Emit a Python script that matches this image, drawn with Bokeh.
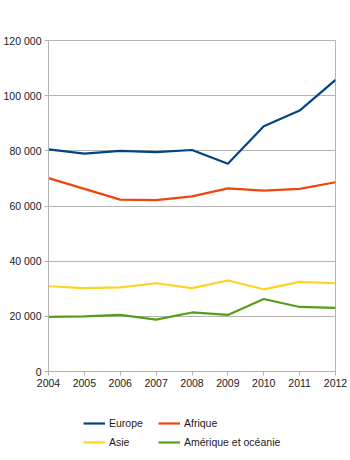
from bokeh.plotting import figure
from bokeh.models import Legend, LegendItem, FixedTicker, Range1d
from bokeh.layouts import column
from bokeh.embed import file_html
from bokeh.resources import INLINE

years = [2004, 2005, 2006, 2007, 2008, 2009, 2010, 2011, 2012]
europe = [80500, 79000, 80000, 79500, 80300, 75300, 88900, 94600, 105700]
afrique = [70100, 66200, 62300, 62100, 63500, 66400, 65600, 66200, 68600]
asie = [30900, 30200, 30500, 32000, 30200, 33000, 29800, 32500, 32000]
amerique = [19800, 20000, 20500, 18800, 21400, 20500, 26300, 23400, 23100]
series_names = ["Europe", "Afrique", "Asie", "Amérique et océanie"]
y_ticks = [0, 20000, 40000, 60000, 80000, 100000, 120000]
y_labels = ["0", "20 000", "40 000", "60 000", "80 000", "100 000", "120 000"]

colors = ["#004586", "#f0440f", "#ffd320", "#579d1c"]
FONT = "Liberation Sans"
GRID = "#b3b3b3"
LW = 2.2

p = figure(width=350, height=400, output_backend="svg", toolbar_location=None,
           x_range=Range1d(2004, 2012), y_range=Range1d(0, 120000),
           min_border_left=43, min_border_right=15, min_border_top=40, min_border_bottom=29)
p.background_fill_color = "white"
p.border_fill_color = "white"
p.outline_line_color = GRID

for vals, c in zip([europe, afrique, asie, amerique], colors):
    p.line(years, vals, line_color=c, line_width=LW)

p.xaxis.ticker = FixedTicker(ticks=years)
p.yaxis.ticker = FixedTicker(ticks=y_ticks)
p.yaxis.major_label_overrides = {t: l for t, l in zip(y_ticks, y_labels)}
for ax in (p.xaxis[0], p.yaxis[0]):
    ax.axis_line_color = GRID
    ax.major_tick_line_color = GRID
    ax.major_tick_out = 4
    ax.major_tick_in = 0
    ax.minor_tick_line_color = None
    ax.major_label_text_font = FONT
    ax.major_label_text_font_size = "10.5px"
    ax.major_label_text_color = "#1a1a1a"
    ax.major_label_standoff = 3
p.xgrid.grid_line_color = None
p.ygrid.grid_line_color = GRID
p.ygrid.ticker = FixedTicker(ticks=y_ticks)

# legend figure
lg = figure(width=350, height=60, output_backend="svg", toolbar_location=None,
            x_axis_type=None, y_axis_type=None, x_range=Range1d(0, 1), y_range=Range1d(0, 1),
            min_border_left=0, min_border_right=0, min_border_top=0, min_border_bottom=0)
lg.outline_line_color = None
lg.xgrid.grid_line_color = None
lg.ygrid.grid_line_color = None
dummies = [lg.line([float("nan")], [float("nan")], line_color=c, line_width=LW) for c in colors]
order = [0, 2, 1, 3]  # column-major fill: row1 Europe/Afrique, row2 Asie/Amérique
items = [LegendItem(label=series_names[i], renderers=[dummies[i]]) for i in order]
legend = Legend(items=items, location=(35, 12), ncols=2, orientation="vertical",
                label_text_font=FONT, label_text_font_size="10.5px", label_text_color="#1a1a1a",
                glyph_width=22, glyph_height=12, label_standoff=4, spacing=7,
                padding=0, margin=0, border_line_color=None, background_fill_alpha=0)
legend.label_height = 12
legend.label_width = 42
lg.add_layout(legend, "center")

open("out.html", "w").write(file_html(column(p, lg, spacing=0), INLINE))
